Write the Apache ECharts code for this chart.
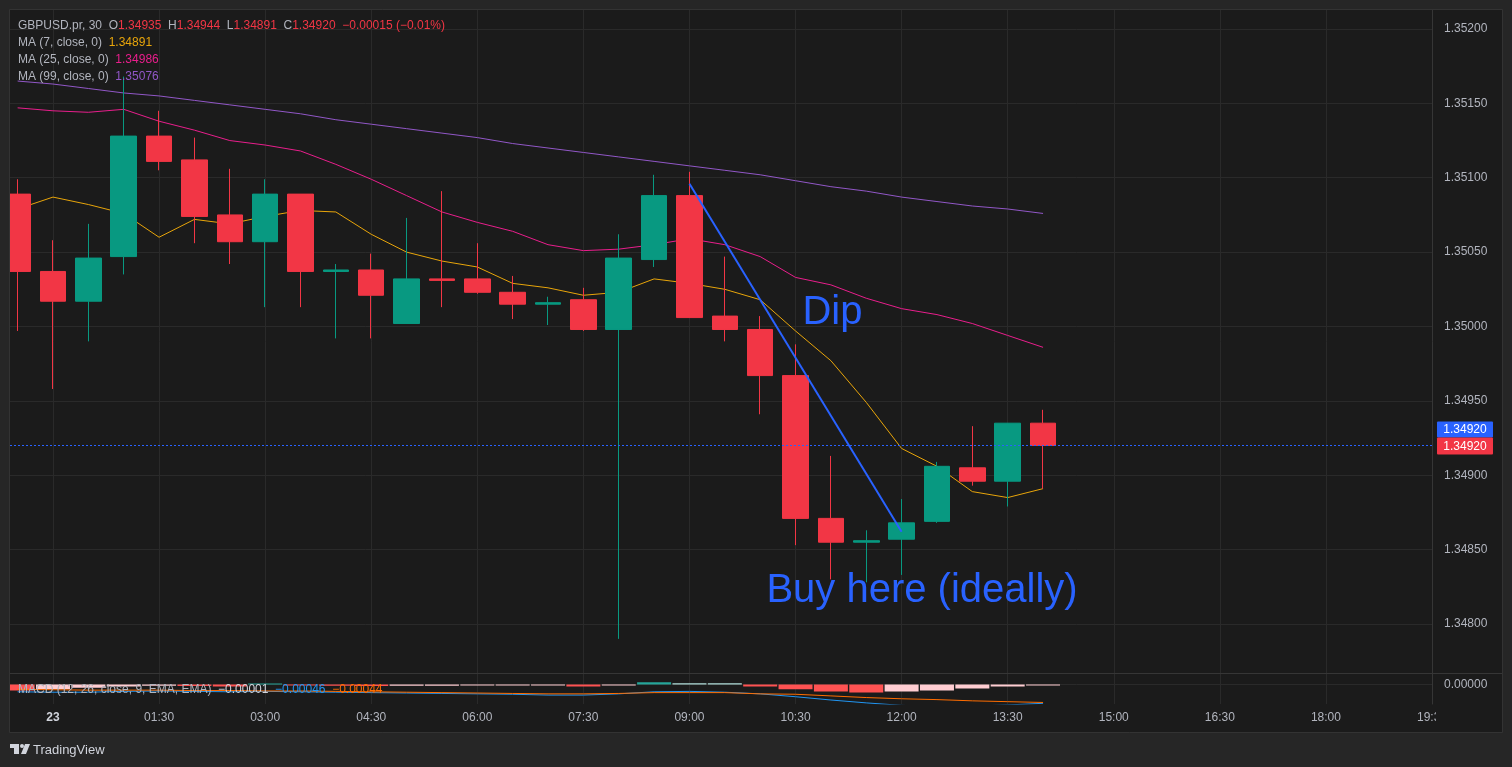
<!DOCTYPE html>
<html>
<head>
<meta charset="utf-8">
<title>GBPUSD.pr, 30</title>
<script src="https://cdn.jsdelivr.net/npm/echarts@6/dist/echarts.min.js"></script>
<style>
  html, body { margin: 0; padding: 0; background: #262626; }
  #chart { width: 1512px; height: 767px; }
</style>
</head>
<body>
<div id="chart"></div>
<script>
// 30 min candles, index 0 = 22nd 23:30
const times = ['23:30', '00:00', '00:30', '01:00', '01:30', '02:00', '02:30', '03:00', '03:30', '04:00',
  '04:30', '05:00', '05:30', '06:00', '06:30', '07:00', '07:30', '08:00', '08:30', '09:00',
  '09:30', '10:00', '10:30', '11:00', '11:30', '12:00', '12:30', '13:00', '13:30', '14:00'];

const opens = [1.35089, 1.35037, 1.35017, 1.35047, 1.35128, 1.35112, 1.35075, 1.35057, 1.35089, 1.35037,
  1.35038, 1.35002, 1.35032, 1.35032, 1.35023, 1.35015, 1.35018, 1.34998, 1.35045, 1.35088,
  1.35007, 1.34998, 1.34967, 1.34871, 1.34855, 1.34857, 1.34869, 1.34905, 1.34896, 1.34935];
const highs = [1.35099, 1.35058, 1.35069, 1.35168, 1.35145, 1.35127, 1.35106, 1.35099, 1.35089, 1.35042,
  1.35049, 1.35073, 1.35091, 1.35056, 1.35034, 1.35020, 1.35026, 1.35062, 1.35102, 1.35104,
  1.35047, 1.35007, 1.34988, 1.34913, 1.34863, 1.34884, 1.34909, 1.34933, 1.34935, 1.34944];
const lows = [1.34997, 1.34958, 1.34990, 1.35035, 1.35105, 1.35056, 1.35042, 1.35013, 1.35013, 1.34992,
  1.34992, 1.35002, 1.35013, 1.35022, 1.35005, 1.35001, 1.34997, 1.34790, 1.35040, 1.35006,
  1.34990, 1.34941, 1.34853, 1.34830, 1.34828, 1.34833, 1.34868, 1.34893, 1.34879, 1.34891];
const closes = [1.35037, 1.35017, 1.35046, 1.35128, 1.35111, 1.35074, 1.35057, 1.35089, 1.35037, 1.35038,
  1.35021, 1.35032, 1.35031, 1.35023, 1.35015, 1.35016, 1.34998, 1.35046, 1.35088, 1.35006,
  1.34998, 1.34967, 1.34871, 1.34855, 1.34856, 1.34868, 1.34906, 1.34896, 1.34935, 1.34920];

// moving averages
const ma7 = [1.35079, 1.35087, 1.35082, 1.35076, 1.35060, 1.35072, 1.35069, 1.35074, 1.35078, 1.35077,
  1.35062, 1.35050, 1.35044, 1.35040, 1.35029, 1.35026, 1.35021, 1.35023, 1.35032, 1.35029,
  1.35025, 1.35018, 1.34997, 1.34977, 1.34949, 1.34918, 1.34906, 1.34889, 1.34885, 1.34891];
const ma25 = [1.35147, 1.35145, 1.35144, 1.35146, 1.35138, 1.35132, 1.35125, 1.35122, 1.35118, 1.35109,
  1.35099, 1.35088, 1.35077, 1.35070, 1.35064, 1.35055, 1.35051, 1.35052, 1.35055, 1.35059,
  1.35055, 1.35047, 1.35033, 1.35028, 1.35019, 1.35012, 1.35008, 1.35002, 1.34994, 1.34986];
const ma99 = [1.35165, 1.35163, 1.35160, 1.35157, 1.35155, 1.35152, 1.35149, 1.35146, 1.35143, 1.35139,
  1.35136, 1.35133, 1.35130, 1.35127, 1.35123, 1.35120, 1.35117, 1.35114, 1.35111, 1.35108,
  1.35105, 1.35102, 1.35098, 1.35094, 1.35091, 1.35087, 1.35084, 1.35081, 1.35079, 1.35076];

// MACD (12, 26, 9)
const macdHist = [-0.00015, -0.00012, -0.00008, -0.00005, -0.00003, -0.00004, -0.00005, 0.00001, -0.00002, -0.00003,
  -0.00004, -0.00003, -0.00003, -0.00002, -0.00002, -0.00002, -0.00005, -0.00002, 0.00005, 0.00003,
  0.00003, -0.00005, -0.00012, -0.00017, -0.00020, -0.00017, -0.00015, -0.00010, -0.00005, -0.00001];
const macdLine = [-0.00018, -0.00019, -0.00019, -0.00017, -0.00016, -0.00017, -0.00018, -0.00017, -0.00018, -0.00019,
  -0.00020, -0.00021, -0.00022, -0.00023, -0.00024, -0.00026, -0.00026, -0.00023, -0.00018, -0.00017,
  -0.00019, -0.00023, -0.00030, -0.00038, -0.00045, -0.00051, -0.00054, -0.00053, -0.00050, -0.00046];
const macdSignal = [-0.00012, -0.00013, -0.00014, -0.00014, -0.00014, -0.00015, -0.00015, -0.00016, -0.00016, -0.00017,
  -0.00018, -0.00019, -0.00020, -0.00021, -0.00022, -0.00023, -0.00023, -0.00022, -0.00020, -0.00020,
  -0.00020, -0.00023, -0.00024, -0.00028, -0.00032, -0.00035, -0.00037, -0.00040, -0.00042, -0.00044];

// axis ticks
const timeTicks = [1, 4, 7, 10, 13, 16, 19, 22, 25, 28, 31, 34, 37, 40];
const timeTickLabels = ['23', '01:30', '03:00', '04:30', '06:00', '07:30', '09:00', '10:30', '12:00', '13:30',
  '15:00', '16:30', '18:00', '19:30'];
const priceTicks = [1.348, 1.3485, 1.349, 1.3495, 1.35, 1.3505, 1.351, 1.3515, 1.352];

// drawings
const dipLine = [[19, 1.35096], [25, 1.34862]];
const notes = [
  { name: 'Dip', coord: [23.045, 1.35009] },
  { name: 'Buy here (ideally)', coord: [25.577, 1.34822] }
];

const UP = '#089981', DOWN = '#F23645';
const TXT = '#b2b5be', GRIDC = '#2a2a2a', LINEC = '#363636', PANEL = '#1b1b1b', OUTER = '#262626';
const FONT = 'Liberation Sans, Arial, sans-serif';
const MA_COLORS = ['#E8A50A', '#E91E8C', '#9157C7'];
const last = times.length - 1;

function histColor (v, i) {
  const prev = i > 0 ? macdHist[i - 1] : 0;
  if (v >= 0) return v > prev ? '#26A69A' : '#B2DFDB';
  return v < prev ? '#FF5252' : '#FFCDD2';
}
const fmt = v => (v < 0 ? '\u2212' : '') + Math.abs(v).toFixed(5);

const chg = closes[last] - closes[last - 1];
const chgPct = chg / closes[last - 1] * 100;

const xRange = { min: -0.216, max: 40 };

const chart = echarts.init(document.getElementById('chart'));

chart.setOption({
  animation: false,
  backgroundColor: PANEL,
  textStyle: { fontFamily: FONT },
  grid: [
    { left: 10, top: 10, width: 1422, height: 663 },
    { left: 10, top: 674, width: 1422, height: 30 }
  ],
  xAxis: [
    {
      type: 'value', gridIndex: 0, min: xRange.min, max: xRange.max,
      axisLine: { show: false, onZero: false },
      axisTick: { show: false, customValues: timeTicks },
      axisLabel: { show: false, customValues: timeTicks },
      splitLine: { show: true, lineStyle: { color: GRIDC } }
    },
    {
      type: 'value', gridIndex: 1, min: xRange.min, max: xRange.max,
      axisLine: { show: false, onZero: false },
      axisTick: { show: false, customValues: timeTicks },
      axisLabel: {
        customValues: timeTicks, color: TXT, fontSize: 12, margin: 8,
        formatter: v => {
          const k = timeTicks.indexOf(Math.round(v));
          if (k === 0) return '{b|' + timeTickLabels[k] + '}';
          return k >= 0 ? timeTickLabels[k] : '';
        },
        rich: { b: { fontWeight: 'bold', color: '#d1d4dc', fontSize: 12 } }
      },
      splitLine: { show: true, lineStyle: { color: GRIDC } }
    }
  ],
  yAxis: [
    {
      type: 'value', gridIndex: 0, position: 'right', min: 1.3476706, max: 1.3521277,
      axisLine: { show: true, onZero: false, lineStyle: { color: LINEC } },
      axisTick: { show: false, customValues: priceTicks },
      axisLabel: { customValues: priceTicks, color: TXT, fontSize: 12, margin: 12, padding: [2, 0, 0, 0], formatter: v => v.toFixed(5) },
      splitLine: { show: true, lineStyle: { color: GRIDC } }
    },
    {
      type: 'value', gridIndex: 1, position: 'right', min: -0.000477, max: 0.000253,
      axisLine: { show: true, onZero: false, lineStyle: { color: LINEC } },
      axisTick: { show: false, customValues: [0] },
      axisLabel: { customValues: [0], color: TXT, fontSize: 12, margin: 12, formatter: v => Math.abs(v).toFixed(5) },
      splitLine: { show: true, lineStyle: { color: GRIDC } }
    }
  ],
  series: [
    {
      name: 'MA7', type: 'line', xAxisIndex: 0, yAxisIndex: 0, z: 1,
      data: ma7.map((v, i) => [i, v]), symbol: 'none',
      lineStyle: { color: MA_COLORS[0], width: 1 }
    },
    {
      name: 'MA25', type: 'line', xAxisIndex: 0, yAxisIndex: 0, z: 1,
      data: ma25.map((v, i) => [i, v]), symbol: 'none',
      lineStyle: { color: MA_COLORS[1], width: 1 }
    },
    {
      name: 'MA99', type: 'line', xAxisIndex: 0, yAxisIndex: 0, z: 1,
      data: ma99.map((v, i) => [i, v]), symbol: 'none',
      lineStyle: { color: MA_COLORS[2], width: 1 },
      // last price line
      markLine: {
        silent: true, symbol: ['none', 'none'], label: { show: false }, precision: 5,
        lineStyle: { color: '#2962FF', width: 1, type: [2, 2] },
        data: [{ yAxis: closes[last] }]
      }
    },
    {
      name: 'GBPUSD', type: 'candlestick', xAxisIndex: 0, yAxisIndex: 0, z: 3,
      data: times.map((t, i) => [i, opens[i], closes[i], lows[i], highs[i]]),
      encode: { x: 0, y: [1, 2, 3, 4] },
      barWidth: 26,
      itemStyle: { color: UP, color0: DOWN, borderColor: UP, borderColor0: DOWN, borderWidth: 1 },
      markLine: {
        silent: true, symbol: ['none', 'none'], label: { show: false }, precision: 5,
        lineStyle: { color: '#2962FF', width: 2, type: 'solid' },
        data: [[{ coord: dipLine[0] }, { coord: dipLine[1] }]]
      },
      markPoint: {
        silent: true, symbol: 'circle', symbolSize: 1,
        itemStyle: { color: 'rgba(0,0,0,0)' },
        label: {
          show: true, position: 'inside', formatter: '{b}',
          color: '#2962FF', fontSize: 40, fontFamily: FONT
        },
        data: notes.map(n => ({ name: n.name, coord: n.coord }))
      }
    },
    {
      name: 'Histogram', type: 'bar', xAxisIndex: 1, yAxisIndex: 1,
      barWidth: 34, barMinHeight: 1,
      data: macdHist.map((v, i) => ({ value: [i, v], itemStyle: { color: histColor(v, i) } }))
    },
    {
      name: 'MACD', type: 'line', xAxisIndex: 1, yAxisIndex: 1, symbol: 'none',
      data: macdLine.map((v, i) => [i, v]), lineStyle: { color: '#2196F3', width: 1 }
    },
    {
      name: 'Signal', type: 'line', xAxisIndex: 1, yAxisIndex: 1, symbol: 'none',
      data: macdSignal.map((v, i) => [i, v]), lineStyle: { color: '#FF6D00', width: 1 }
    }
  ],
  graphic: { elements: [
    // outer frame
    { id: 'fTop', type: 'rect', shape: { x: 0, y: 0, width: 1512, height: 10 }, style: { fill: OUTER }, z: 100, silent: true },
    { id: 'fLeft', type: 'rect', shape: { x: 0, y: 0, width: 10, height: 767 }, style: { fill: OUTER }, z: 100, silent: true },
    { id: 'fRight', type: 'rect', shape: { x: 1502, y: 0, width: 10, height: 767 }, style: { fill: OUTER }, z: 100, silent: true },
    { id: 'fBottom', type: 'rect', shape: { x: 0, y: 732, width: 1512, height: 35 }, style: { fill: OUTER }, z: 100, silent: true },
    { id: 'fBorder', type: 'rect', shape: { x: 9.5, y: 9.5, width: 1493, height: 723 }, style: { fill: null, stroke: '#333333', lineWidth: 1 }, z: 101, silent: true },
    { id: 'sep', type: 'line', shape: { x1: 10, y1: 673.5, x2: 1502, y2: 673.5 }, style: { stroke: LINEC, lineWidth: 1 }, z: 90, silent: true },
    { id: 'axisCut', type: 'rect', shape: { x: 1436, y: 705, width: 66, height: 26 }, style: { fill: PANEL }, z: 90, silent: true },
    // legends
    {
      id: 'lg0', type: 'text', x: 18, y: 26, z: 95,
      style: {
        text: '{g|GBPUSD.pr, 30}  {g|O}{r|' + opens[last].toFixed(5) + '}  {g|H}{r|' + highs[last].toFixed(5) +
          '}  {g|L}{r|' + lows[last].toFixed(5) + '}  {g|C}{r|' + closes[last].toFixed(5) + '}  {r|' +
          fmt(chg) + ' (' + (chgPct < 0 ? '\u2212' : '') + Math.abs(chgPct).toFixed(2) + '%)}',
        font: '12px ' + FONT, verticalAlign: 'middle', textVerticalAlign: 'middle',
        rich: { g: { fill: TXT, fontSize: 12, fontFamily: FONT }, r: { fill: DOWN, fontSize: 12, fontFamily: FONT } }
      }
    },
    ...[['MA (7, close, 0)', ma7], ['MA (25, close, 0)', ma25], ['MA (99, close, 0)', ma99]].map((m, k) => ({
      id: 'lgMa' + k, type: 'text', x: 18, y: 43 + k * 17, z: 95,
      style: {
        text: '{g|' + m[0] + '}  {v|' + m[1][last].toFixed(5) + '}',
        font: '12px ' + FONT, verticalAlign: 'middle', textVerticalAlign: 'middle',
        rich: { g: { fill: TXT, fontSize: 12, fontFamily: FONT }, v: { fill: MA_COLORS[k], fontSize: 12, fontFamily: FONT } }
      }
    })),
    {
      id: 'lgMacd', type: 'text', x: 18, y: 690, z: 95,
      style: {
        text: '{g|MACD (12, 26, close, 9, EMA, EMA)}  {h|' + fmt(macdHist[last]) + '}  {m|' + fmt(macdLine[last]) +
          '}  {s|' + fmt(macdSignal[last]) + '}',
        font: '12px ' + FONT, verticalAlign: 'middle', textVerticalAlign: 'middle',
        rich: {
          g: { fill: TXT, fontSize: 12, fontFamily: FONT }, h: { fill: '#d1d4dc', fontSize: 12, fontFamily: FONT },
          m: { fill: '#2196F3', fontSize: 12, fontFamily: FONT }, s: { fill: '#FF6D00', fontSize: 12, fontFamily: FONT }
        }
      }
    },
    // TradingView mark
    { id: 'tv1', type: 'rect', shape: { x: 10, y: 744, width: 9, height: 4 }, style: { fill: '#d1d4dc' }, z: 110 },
    { id: 'tv2', type: 'rect', shape: { x: 14, y: 744, width: 5, height: 10 }, style: { fill: '#d1d4dc' }, z: 110 },
    { id: 'tv3', type: 'circle', shape: { cx: 22, cy: 746, r: 2 }, style: { fill: '#d1d4dc' }, z: 110 },
    { id: 'tv4', type: 'polygon', shape: { points: [[25, 744], [30, 744], [26, 754], [21, 754]] }, style: { fill: '#d1d4dc' }, z: 110 },
    {
      id: 'tvText', type: 'text', x: 33, y: 750, z: 110,
      style: { text: 'TradingView', fill: '#d1d4dc', font: '13px ' + FONT, verticalAlign: 'middle', textVerticalAlign: 'middle' }
    }
  ] }
});

// price tags on the right scale
const yClose = chart.convertToPixel({ yAxisIndex: 0 }, closes[last]);
chart.setOption({
  graphic: { elements: [
    { id: 'tagBlue', type: 'rect', shape: { x: 1437, y: yClose - 24, width: 56, height: 16, r: 1 }, style: { fill: '#2962FF' }, z: 96 },
    {
      id: 'tagBlueT', type: 'text', x: 1465, y: yClose - 15.5, z: 97,
      style: { text: closes[last].toFixed(5), fill: '#ffffff', font: '12px ' + FONT, align: 'center', textAlign: 'center', verticalAlign: 'middle', textVerticalAlign: 'middle' }
    },
    { id: 'tagRed', type: 'rect', shape: { x: 1437, y: yClose - 8, width: 56, height: 17, r: 1 }, style: { fill: DOWN }, z: 96 },
    {
      id: 'tagRedT', type: 'text', x: 1465, y: yClose + 1, z: 97,
      style: { text: closes[last].toFixed(5), fill: '#ffffff', font: '12px ' + FONT, align: 'center', textAlign: 'center', verticalAlign: 'middle', textVerticalAlign: 'middle' }
    }
  ] }
});
</script>
</body>
</html>
